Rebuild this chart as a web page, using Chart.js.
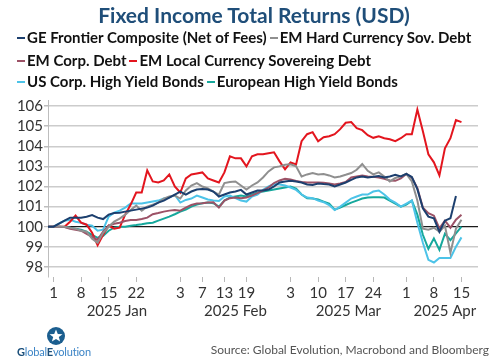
<!DOCTYPE html>
<html>
<head>
<meta charset="utf-8">
<script src="https://cdn.jsdelivr.net/npm/chart.js@4"></script>
<style>
  html, body { margin:0; padding:0; background:#fff; }
  body { width:496px; height:362px; position:relative; overflow:hidden; font-family:"Lato", "Open Sans", sans-serif; }
  #c { position:absolute; left:0; top:0; }
  .title { position:absolute; left:0; width:508px; top:2px; text-align:center; font-weight:bold; font-size:21px; color:#1f4e79; white-space:nowrap; }
  .lrow { position:absolute; left:17px; white-space:nowrap; font-weight:bold; font-size:15px; color:#111; line-height:20px; }
  .lrow span { display:inline-block; }
  .lrow i { display:inline-block; width:8px; height:2px; vertical-align:middle; margin-right:2px; position:relative; top:-1px; }
  .source { position:absolute; right:7px; top:342px; font-size:12px; color:#555; white-space:nowrap; }
  .logo { position:absolute; left:16px; top:326px; width:80px; }
  .logo .txt { position:absolute; left:1px; top:19px; font-size:11px; color:#3d85c6; white-space:nowrap; letter-spacing:-0.2px; }
  .logo .txt b { color:#1b4f7a; font-weight:bold; }
</style>
</head>
<body>
<canvas id="c" width="496" height="362"></canvas>
<div class="title">Fixed Income Total Returns (USD)</div>
<div id="legend"></div>
<div class="logo">
  <svg style="position:absolute;left:30px;top:0px" width="20" height="20" viewBox="0 0 20 20">
    <circle cx="10" cy="10" r="9" fill="#1b5e8f"/>
    <polygon points="10,3.5 11.8,8 16.5,8.2 12.8,11.1 14.1,15.6 10,13 5.9,15.6 7.2,11.1 3.5,8.2 8.2,8" fill="#ffffff"/>
  </svg>
  <div class="txt"><b>G</b>lobal<b>E</b>volution</div>
</div>
<div class="source">Source: Global Evolution, Macrobond and Bloomberg</div>
<script>
// ---- categories (business days, MM-DD) ----
const dates = ['12-31',
 '01-01','01-02','01-03','01-06','01-07','01-08','01-09','01-10','01-13','01-14','01-15','01-16','01-17',
 '01-20','01-21','01-22','01-23','01-24','01-27','01-28','01-29','01-30','01-31',
 '02-03','02-04','02-05','02-06','02-07','02-10','02-11','02-12','02-13','02-14',
 '02-17','02-18','02-19','02-20','02-21','02-24','02-25','02-26','02-27','02-28',
 '03-03','03-04','03-05','03-06','03-07','03-10','03-11','03-12','03-13','03-14',
 '03-17','03-18','03-19','03-20','03-21','03-24','03-25','03-26','03-27','03-28','03-31',
 '04-01','04-02','04-03','04-04','04-07','04-08','04-09','04-10','04-11',
 '04-14','04-15','04-16','04-17','04-18'];
const tickDays = ['01-01','01-08','01-15','01-22','02-03','02-07','02-13','02-19','03-03','03-10','03-17','03-24','04-01','04-08','04-15'];
const monthKeys = ['01','02','03','04'];
const monthNames = ['2025 Jan','2025 Feb','2025 Mar','2025 Apr'];
const yTicks = [98,99,100,101,102,103,104,105,106];

// ---- series ----
const seriesNames = ['GE Frontier Composite (Net of Fees)','EM Hard Currency Sov. Debt','EM Corp. Debt','EM Local Currency Sovereing Debt','US Corp. High Yield Bonds','European High Yield Bonds'];
const seriesColors = ['#1c3f6e','#8f8f8f','#9c5266','#e3151e','#4cc3e8','#15a89c'];

const geFrontier = [100,100,100.15,100.3,100.45,100.45,100.45,100.5,100.58,100.45,
 100.38,100.6,100.68,100.7,100.75,100.8,100.85,100.9,100.95,101.05,
 101.2,101.3,101.45,101.6,101.75,101.6,101.75,101.85,101.88,101.85,
 101.75,101.5,101.6,101.7,101.75,101.83,101.6,101.7,101.8,101.8,
 101.85,102.0,102.2,102.25,102.28,102.25,102.2,102.1,102.08,102.15,
 102.12,102.1,102.0,102.1,102.2,102.33,102.45,102.5,102.45,102.48,
 102.52,102.45,102.5,102.58,102.5,102.63,102.47,101.87,100.92,100.5,
 100.42,99.75,100.3,100.42,101.53];
const emHardSov = [100,100,100.0,100.0,99.95,99.9,99.8,99.75,99.4,99.2,
 99.7,100.0,100.25,100.4,100.6,100.83,101.05,100.8,101.0,101.1,
 101.2,101.4,101.5,101.55,101.4,101.8,102.05,102.17,102.0,101.9,
 101.75,101.6,102.17,102.22,102.25,102.05,101.85,102.05,102.2,102.45,
 102.75,102.95,103.0,103.08,103.1,103.0,102.5,102.6,102.67,102.6,
 102.62,102.55,102.45,102.5,102.58,102.67,102.83,103.12,102.78,102.6,
 102.7,102.5,102.25,102.42,102.5,102.63,102.25,101.3,99.9,99.85,
 99.95,99.75,100.05,98.7,99.9,100.35];
const emCorp = [100,100,100.0,99.98,99.9,99.85,99.8,99.65,99.5,99.35,
 99.75,100.05,100.15,100.2,100.28,100.33,100.33,100.38,100.45,100.62,
 100.68,100.75,100.8,100.83,100.8,100.95,101.08,101.15,101.17,101.2,
 101.22,100.95,101.3,101.42,101.45,101.42,101.45,101.55,101.67,101.8,
 101.95,102.17,102.3,102.38,102.35,102.28,102.22,102.2,102.2,102.2,
 102.18,102.15,102.1,102.15,102.22,102.45,102.5,102.55,102.5,102.48,
 102.45,102.38,102.3,102.28,102.4,102.62,102.45,101.92,100.95,100.67,
 100.55,99.92,100.3,99.95,100.35,100.6];
const emLocal = [100,100,100,100.0,100.25,100.55,100.2,100.1,99.7,99.08,
 99.6,100.05,99.9,99.95,100.6,101.1,101.7,101.7,102.8,102.25,
 102.2,102.3,102.6,102.0,101.7,102.4,102.6,102.65,102.7,102.4,
 102.3,102.2,102.7,103.5,103.4,103.4,103.0,103.5,103.6,103.6,
 103.65,103.7,103.25,102.85,103.2,103.1,104.25,104.6,104.7,104.25,
 104.45,104.5,104.6,104.85,105.17,105.2,104.9,104.8,104.55,104.42,
 104.5,104.4,104.35,104.25,104.4,104.6,104.6,105.83,104.75,103.6,
 103.2,102.55,103.9,104.4,105.3,105.2];
const usHY = [100,100,100.15,100.3,100.35,100.25,100.2,100.1,100.05,99.8,
 99.85,100.5,100.7,100.8,100.95,101.15,101.15,101.15,101.2,101.25,
 101.3,101.4,101.45,101.58,101.2,101.33,101.4,101.55,101.45,101.35,
 101.3,101.28,101.5,101.55,101.42,101.3,101.25,101.5,101.6,101.83,
 102.0,102.12,102.1,102.05,101.95,101.83,101.6,101.45,101.42,101.3,
 101.22,101.08,100.83,101.0,101.2,101.4,101.5,101.6,101.6,101.75,
 101.8,101.6,101.35,101.2,101.0,101.15,101.3,100.2,99.2,98.35,
 98.22,98.45,98.45,98.45,99.0,99.47];
const euHY = [100,100,100.0,99.98,99.95,99.9,99.85,99.75,99.6,99.45,
 99.55,99.8,99.95,100.0,100.0,100.05,100.08,100.12,100.17,100.2,
 100.3,100.4,100.5,100.62,100.75,100.85,101.0,101.1,101.17,101.2,
 101.17,101.0,101.3,101.45,101.5,101.55,101.5,101.6,101.7,101.75,
 101.8,101.85,101.9,101.95,102.0,101.9,101.6,101.42,101.4,101.35,
 101.25,101.15,100.85,100.95,101.08,101.2,101.3,101.4,101.45,101.47,
 101.47,101.45,101.3,101.15,101.0,101.1,101.3,100.6,99.6,98.9,
 99.42,98.85,99.65,99.33,99.67,100.0];

const seriesData = [geFrontier, emHardSov, emCorp, emLocal, usHY, euHY];

// ---- legend (HTML, three rows of two) ----
const legendEl = document.getElementById('legend');
const rowTops = [27, 50, 71];
for (let r = 0; r < 3; r++) {
  const row = document.createElement('div');
  row.className = 'lrow';
  row.style.top = rowTops[r] + 'px';
  for (let k = 0; k < 2; k++) {
    const idx = r * 2 + k;
    const sp = document.createElement('span');
    const mk = document.createElement('i');
    mk.style.background = seriesColors[idx];
    sp.appendChild(mk);
    sp.appendChild(document.createTextNode(seriesNames[idx]));
    if (k === 0) sp.style.marginRight = '3px';
    row.appendChild(sp);
  }
  legendEl.appendChild(row);
}

// month label centres from the category list
const monthCenters = monthKeys.map((m, i) => {
  const first = dates.findIndex(d => d.startsWith(m + '-'));
  const nextKey = monthKeys[i + 1];
  const next = nextKey ? dates.findIndex(d => d.startsWith(nextKey + '-')) : dates.length;
  return (first + next) / 2;
});

const tickFont = { family: 'Lato', size: 15 };

new Chart(document.getElementById('c'), {
  type: 'line',
  data: {
    labels: dates,
    datasets: seriesData.map((d, i) => ({
      label: seriesNames[i],
      data: d,
      borderColor: seriesColors[i],
      backgroundColor: seriesColors[i],
      borderWidth: 2,
      pointRadius: 0,
      tension: 0,
      fill: false
    }))
  },
  options: {
    responsive: false,
    animation: false,
    devicePixelRatio: 1,
    layout: { padding: { top: 100, left: 0, right: 18, bottom: 39 } },
    plugins: { legend: { display: false }, title: { display: false }, tooltip: { enabled: false } },
    scales: {
      x: {
        type: 'category',
        position: 'bottom',
        weight: 0,
        offset: false,
        border: { display: false },
        grid: {
          drawOnChartArea: false,
          drawTicks: true,
          tickLength: 5,
          color: ctx => tickDays.includes(dates[ctx.index]) ? '#b8b8b8' : 'rgba(0,0,0,0)'
        },
        ticks: {
          autoSkip: false, maxRotation: 0, minRotation: 0, padding: 2,
          color: '#333', font: tickFont,
          callback: (v, i) => tickDays.includes(dates[i]) ? String(parseInt(dates[i].slice(3), 10)) : ''
        },
        afterFit: s => { s.height = 24; }
      },
      xm: {
        type: 'linear',
        position: 'bottom',
        weight: 1,
        min: 0,
        max: dates.length - 1,
        border: { display: false },
        grid: { display: false, drawTicks: false },
        afterBuildTicks: axis => { axis.ticks = monthCenters.map(v => ({ value: v })); },
        ticks: {
          autoSkip: false, maxRotation: 0, padding: 1,
          color: '#333', font: tickFont,
          callback: (v, i) => monthNames[i]
        },
        afterFit: s => { s.height = 22; }
      },
      y: {
        min: 97.5,
        max: 106.3,
        border: { display: true, color: '#bdbdbd', width: 1 },
        grid: {
          color: ctx => (ctx.tick && ctx.tick.value === 100) ? '#1a1a1a' : '#cccccc',
          lineWidth: ctx => (ctx.tick && ctx.tick.value === 100) ? 1.2 : 1.5,
          tickLength: 4,
          tickColor: '#bdbdbd'
        },
        afterBuildTicks: axis => { axis.ticks = yTicks.map(v => ({ value: v })); },
        ticks: { color: '#333', font: tickFont, padding: 1, callback: v => String(v) },
        afterFit: s => { s.width = 48; }
      }
    }
  }
});
</script>
</body>
</html>
